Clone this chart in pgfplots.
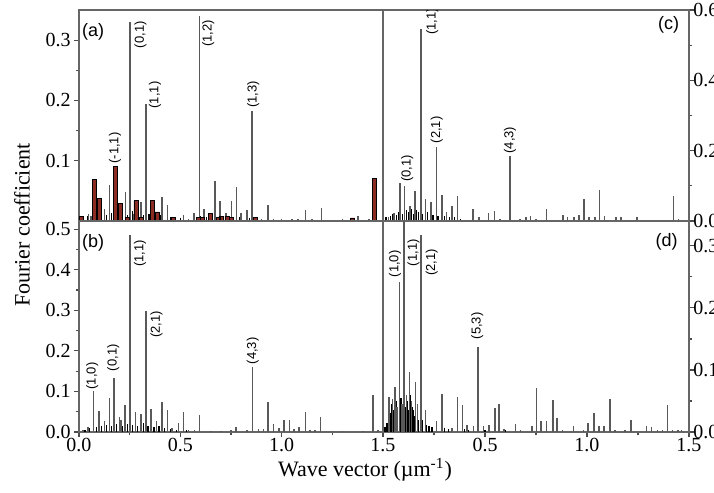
\documentclass[border=0pt]{standalone}
\usepackage{pgfplots}
\pgfplotsset{compat=1.18}
\usepackage{fontspec}
\setmainfont{Liberation Serif}
\newfontfamily\sansf{Liberation Sans}
\definecolor{redbar}{RGB}{140,45,35}
\pgfplotsset{
 panel/.style={scale only axis, xmin=0, xmax=1.5, ymin=0, anchor=south west,
   axis line style={black!60, line width=0.8pt},
   tick style={black!70, line width=0.6pt}, tick align=outside,
   major tick length=2.5pt, minor tick length=1.6pt,
   ticklabel style={font=\fontsize{10}{11}\selectfont, inner sep=1.5pt},
   xticklabel style={yshift=1pt},
   minor y tick num=1, height=105.5pt},
 gl/.style={ycomb, draw=black!65, line width=0.8pt, no markers},
 bl/.style={ycomb, draw=black, line width=0.6pt, no markers},
 rb/.style={ybar, bar width=2pt, fill=redbar, draw=black, line width=0.35pt},
}
\tikzset{
 pk/.style={rotate=90, font=\sansf\fontsize{6.5}{7}\selectfont, inner sep=0pt},
 pl/.style={font=\sansf\fontsize{9}{10}\selectfont, inner sep=0pt},
}
\begin{document}
\begin{tikzpicture}
% (a)
\begin{axis}[panel, at={(39.5pt,136pt)}, width=152pt, ymax=0.35,
  xtick=\empty, ytick={0.1,0.2,0.3}, yticklabels={0.1,0.2,0.3}, ytick pos=left]
\addplot[bl] coordinates {(0.04,0.008)(0.085,0.012)(0.105,0.015)(0.135,0.01)(0.16,0.014)(0.175,0.012)(0.195,0.016)(0.215,0.012)(0.24,0.01)(0.265,0.016)(0.29,0.012)(0.32,0.01)(0.345,0.012)(0.375,0.008)(0.4,0.01)(0.45,0.006)(0.5,0.005)(0.6,0.008)(0.63,0.006)(0.66,0.008)(0.71,0.006)(0.74,0.008)(0.79,0.006)(0.84,0.005)};
\addplot[gl] coordinates {(0.02,0.006)(0.046,0.011)(0.06,0.008)(0.11,0.012)(0.125,0.02)(0.15,0.06)(0.19,0.01)(0.23,0.048)(0.252,0.33)(0.27,0.012)(0.306,0.032)(0.33,0.194)(0.36,0.008)(0.411,0.039)(0.436,0.026)(0.47,0.005)(0.515,0.01)(0.54,0.004)(0.567,0.013)(0.594,0.34)(0.617,0.02)(0.648,0.014)(0.671,0.066)(0.696,0.034)(0.724,0.014)(0.753,0.034)(0.778,0.056)(0.80,0.014)(0.829,0.018)(0.855,0.183)(0.88,0.005)(0.9,0.004)(0.934,0.027)(0.96,0.003)(1.0,0.003)(1.05,0.004)(1.08,0.003)(1.118,0.018)(1.15,0.003)(1.197,0.022)(1.3,0.003)(1.35,0.003)(1.378,0.008)(1.43,0.004)};
\addplot[rb] coordinates {(0.013,0.008)(0.076,0.069)(0.1,0.037)(0.181,0.091)(0.202,0.029)(0.24,0.006)(0.281,0.034)(0.31,0.006)(0.362,0.034)(0.386,0.015)(0.465,0.006)(0.59,0.006)(0.61,0.006)(0.65,0.012)(0.687,0.006)(0.7,0.008)(0.73,0.008)(0.753,0.006)(0.87,0.006)(1.35,0.005)(1.459,0.07)};
\node[pl] at (axis cs:0.07,0.314) {(a)};
\node[pk] at (axis cs:0.178,0.121) {(-1,1)};
\node[pk] at (axis cs:0.303,0.309) {(0,1)};
\node[pk] at (axis cs:0.375,0.209) {(1,1)};
\node[pk] at (axis cs:0.638,0.311) {(1,2)};
\node[pk] at (axis cs:0.86,0.21) {(1,3)};
\end{axis}
% (b)
\begin{axis}[panel, at={(39.5pt,30.5pt)}, width=152pt, ymax=0.52,
  xtick={0,0.5,1,1.5}, xticklabels={0.0,0.5,1.0,1.5}, xtick pos=left, minor x tick num=1,
  ytick={0,0.1,0.2,0.3,0.4,0.5}, yticklabels={0.0,0.1,0.2,0.3,0.4,0.5}, ytick pos=left]
\addplot[bl] coordinates {(0.03,0.006)(0.05,0.01)(0.085,0.012)(0.11,0.015)(0.135,0.018)(0.16,0.014)(0.185,0.02)(0.215,0.015)(0.24,0.02)(0.265,0.018)(0.29,0.016)(0.32,0.022)(0.34,0.014)(0.37,0.012)(0.395,0.016)(0.42,0.01)(0.45,0.008)(0.48,0.006)(0.53,0.005)};
\addplot[gl] coordinates {(0.02,0.005)(0.045,0.012)(0.071,0.1)(0.099,0.051)(0.125,0.028)(0.15,0.085)(0.174,0.133)(0.199,0.038)(0.207,0.03)(0.228,0.067)(0.252,0.485)(0.278,0.05)(0.306,0.044)(0.33,0.299)(0.355,0.056)(0.383,0.028)(0.411,0.075)(0.436,0.053)(0.46,0.01)(0.49,0.023)(0.515,0.05)(0.54,0.005)(0.57,0.004)(0.594,0.041)(0.65,0.003)(0.7,0.003)(0.75,0.004)(0.775,0.012)(0.83,0.005)(0.857,0.16)(0.885,0.007)(0.91,0.007)(0.934,0.075)(0.959,0.019)(0.988,0.01)(1.011,0.03)(1.038,0.03)(1.062,0.008)(1.085,0.013)(1.117,0.049)(1.14,0.005)(1.164,0.004)(1.192,0.036)(1.25,0.003)(1.3,0.003)(1.4,0.003)(1.452,0.092)(1.475,0.005)};
\node[pl] at (axis cs:0.07,0.466) {(b)};
\node[pk] at (axis cs:0.066,0.138) {(1,0)};
\node[pk] at (axis cs:0.169,0.183) {(0,1)};
\node[pk] at (axis cs:0.301,0.44) {(1,1)};
\node[pk] at (axis cs:0.383,0.265) {(2,1)};
\node[pk] at (axis cs:0.857,0.2) {(4,3)};
\end{axis}
% (c)
\begin{axis}[panel, at={(191.5pt,136pt)}, width=153pt, ymax=0.6,
  xtick=\empty, ytick={0,0.2,0.4,0.6}, yticklabels={0.0,0.2,0.4,0.6},
  ytick pos=right, yticklabel pos=right, yticklabel style={xshift=-2pt}]
\addplot[bl] coordinates {(0.015,0.01)(0.035,0.015)(0.045,0.02)(0.065,0.018)(0.075,0.025)(0.095,0.02)(0.115,0.03)(0.125,0.025)(0.14,0.035)(0.15,0.02)(0.165,0.03)(0.175,0.025)(0.195,0.02)(0.22,0.025)(0.245,0.018)(0.27,0.015)(0.3,0.015)(0.325,0.012)(0.35,0.01)(0.38,0.006)};
\addplot[gl] coordinates {(0.026,0.012)(0.054,0.024)(0.082,0.109)(0.106,0.1)(0.132,0.043)(0.157,0.085)(0.185,0.545)(0.209,0.0625)(0.235,0.053)(0.263,0.21)(0.288,0.074)(0.312,0.026)(0.338,0.043)(0.366,0.071)(0.44,0.033)(0.47,0.01)(0.518,0.022)(0.547,0.029)(0.575,0.006)(0.622,0.185)(0.672,0.006)(0.7,0.012)(0.724,0.014)(0.75,0.005)(0.802,0.033)(0.881,0.017)(0.905,0.012)(0.935,0.01)(0.96,0.017)(0.985,0.062)(1.01,0.012)(1.039,0.012)(1.062,0.088)(1.085,0.014)(1.141,0.012)(1.167,0.012)(1.244,0.01)(1.35,0.003)(1.4,0.004)(1.425,0.071)(1.448,0.005)(1.47,0.004)};
\node[pl] at (axis cs:1.40,0.557) {(c)};
\node[pk] at (axis cs:0.119,0.149) {(0,1)};
\node[pk] at (axis cs:0.241,0.567) {(1,1)};
\node[pk] at (axis cs:0.263,0.259) {(2,1)};
\node[pk] at (axis cs:0.623,0.23) {(4,3)};
\end{axis}
% (d)
\begin{axis}[panel, at={(191.5pt,30.5pt)}, width=153pt, ymax=0.34,
  xtick={0,0.5,1,1.5}, xticklabels={,0.5,1.0,1.5}, xtick pos=left, minor x tick num=1,
  ytick={0,0.1,0.2,0.3}, yticklabels={0.0,0.1,0.2,0.3},
  ytick pos=right, yticklabel pos=right, yticklabel style={xshift=-2pt}]
\addplot[bl] coordinates {(0.01,0.008)(0.02,0.015)(0.035,0.03)(0.04,0.045)(0.052,0.035)(0.065,0.05)(0.072,0.04)(0.088,0.055)(0.095,0.045)(0.1,0.06)(0.11,0.04)(0.118,0.05)(0.124,0.035)(0.135,0.06)(0.142,0.04)(0.15,0.035)(0.155,0.025)(0.168,0.03)(0.175,0.02)(0.195,0.02)(0.215,0.012)(0.225,0.01)(0.24,0.008)(0.3,0.006)(0.32,0.005)(0.4,0.005)(0.42,0.004)(0.5,0.004)(0.6,0.004)};
\addplot[gl] coordinates {(0.029,0.057)(0.047,0.053)(0.059,0.073)(0.069,0.04)(0.08,0.241)(0.094,0.045)(0.104,0.5)(0.115,0.06)(0.129,0.097)(0.14,0.05)(0.16,0.081)(0.17,0.045)(0.186,0.317)(0.209,0.035)(0.263,0.018)(0.288,0.062)(0.337,0.006)(0.366,0.057)(0.389,0.044)(0.413,0.012)(0.443,0.01)(0.467,0.137)(0.492,0.01)(0.52,0.012)(0.548,0.039)(0.57,0.045)(0.593,0.005)(0.65,0.013)(0.675,0.004)(0.729,0.01)(0.753,0.071)(0.775,0.017)(0.802,0.017)(0.832,0.052)(0.854,0.023)(0.879,0.004)(0.933,0.01)(0.982,0.003)(1.006,0.015)(1.034,0.031)(1.059,0.01)(1.083,0.01)(1.113,0.053)(1.137,0.004)(1.186,0.004)(1.216,0.02)(1.292,0.01)(1.317,0.008)(1.345,0.003)(1.37,0.003)(1.395,0.044)(1.42,0.003)(1.445,0.003)(1.464,0.003)};
\node[pl] at (axis cs:1.39,0.307) {(d)};
\node[pk] at (axis cs:0.059,0.271) {(1,0)};
\node[pk] at (axis cs:0.149,0.289) {(1,1)};
\node[pk] at (axis cs:0.239,0.273) {(2,1)};
\node[pk] at (axis cs:0.462,0.171) {(5,3)};
\end{axis}
\node[rotate=90, font=\fontsize{11}{12}\selectfont] at (11pt,134pt) {Fourier coefficient};
\node[font=\fontsize{11}{12}\selectfont] at (182.5pt,11.5pt) {Wave vector (µm\textsuperscript{-1})};
\pgfresetboundingbox
\path[use as bounding box] (0pt,0pt) rectangle (357pt,246.5pt);
\end{tikzpicture}
\end{document}
